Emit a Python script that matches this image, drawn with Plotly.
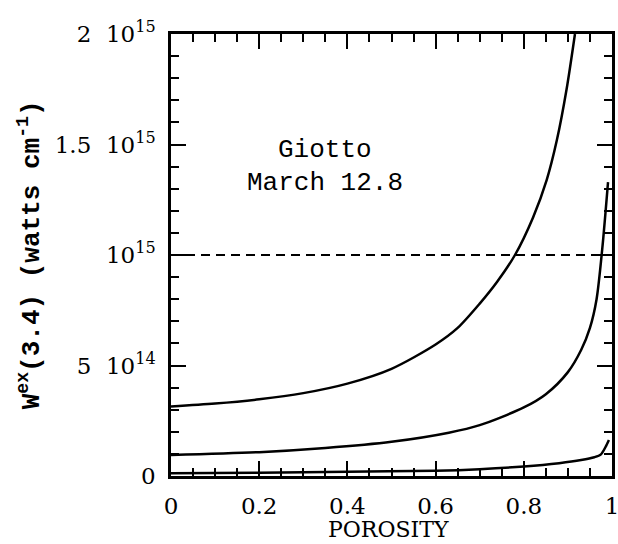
import plotly.graph_objects as go

# Porosity samples and W^ex(3.4) values (in units of 1e15 watts/cm)
p_top = [0.0, 0.1, 0.2, 0.3, 0.4, 0.5, 0.6, 0.65, 0.7, 0.74, 0.78, 0.821, 0.852, 0.875, 0.897, 0.916]
w_top = [0.315, 0.328, 0.347, 0.375, 0.418, 0.485, 0.595, 0.67, 0.78, 0.88, 1.0, 1.17, 1.34, 1.52, 1.75, 2.0]

p_mid = [0.0, 0.2, 0.35, 0.5, 0.63, 0.7, 0.8, 0.85, 0.9, 0.93, 0.95, 0.965, 0.978, 0.991]
w_mid = [0.095, 0.108, 0.127, 0.155, 0.196, 0.23, 0.31, 0.37, 0.47, 0.57, 0.67, 0.80, 1.03, 1.33]

p_low = [0.0, 0.2, 0.4, 0.6, 0.7, 0.8, 0.88, 0.93, 0.96, 0.975, 0.985, 0.993]
w_low = [0.013, 0.015, 0.019, 0.024, 0.031, 0.043, 0.058, 0.072, 0.085, 0.098, 0.13, 0.163]

p_ref = [0.0, 1.0]
w_ref = [1.0, 1.0]

scale = 1e15
NB = "\u00a0"

ytick_vals = [0, 5e14, 1e15, 1.5e15, 2e15]
ytick_text = ["0", f"5{NB} 10<sup>14</sup>", "10<sup>15</sup>",
              f"1.5{NB} 10<sup>15</sup>", f"2{NB} 10<sup>15</sup>"]
xtick_vals = [0, 0.2, 0.4, 0.6, 0.8, 1.0]
xtick_text = ["0", "0.2", "0.4", "0.6", "0.8", "1"]

fig = go.Figure()
for px, wy in [(p_top, w_top), (p_mid, w_mid), (p_low, w_low)]:
    fig.add_trace(go.Scatter(x=px, y=[v * scale for v in wy], mode="lines",
                             line=dict(color="black", width=2.5, shape="spline", smoothing=0.8),
                             showlegend=False))
# dashed reference level drawn on the overlay (top/right) axes, which share the same ranges
fig.add_trace(go.Scatter(x=p_ref, y=[v * scale for v in w_ref], mode="lines",
                         xaxis="x2", yaxis="y2",
                         line=dict(color="black", width=2, dash="9px,6px"), showlegend=False))

ann_font = dict(family="Liberation Mono", size=26, color="black")
fig.add_annotation(x=0.35, y=1.475e15, text="Giotto", showarrow=False, font=ann_font)
fig.add_annotation(x=0.35, y=1.325e15, text="March 12.8", showarrow=False, font=ann_font)

# axis titles as paper annotations
fig.add_annotation(xref="paper", yref="paper", x=-0.362, y=0.5, textangle=-90,
                   text="W<sup>ex</sup>(3.4) (watts cm<sup>-1</sup>)", showarrow=False,
                   font=dict(family="Liberation Mono", size=26, color="black", weight="bold"))
fig.add_annotation(xref="paper", yref="paper", x=0.494, y=-0.1516, yanchor="bottom",
                   text="POROSITY", showarrow=False, borderpad=0,
                   font=dict(family="DejaVu Serif", size=22, color="black"))

tick_font = dict(family="DejaVu Serif", size=23, color="black")
common = dict(showgrid=False, zeroline=False, showline=True, linecolor="black", linewidth=2.5,
              ticks="inside", ticklen=15, tickwidth=2, tickcolor="black", automargin=False)
xminor = dict(dtick=0.05, ticks="inside", ticklen=8, tickwidth=2, tickcolor="black", showgrid=False)
yminor = dict(dtick=1e14, ticks="inside", ticklen=8, tickwidth=2, tickcolor="black", showgrid=False)

fig.update_layout(
    xaxis=dict(range=[0, 1], tickmode="array", tickvals=xtick_vals, ticktext=xtick_text,
               tickfont=tick_font, ticklabelstandoff=8, ticklabeloverflow="allow",
               minor=xminor, **common),
    yaxis=dict(range=[0, 2e15], tickmode="array", tickvals=ytick_vals, ticktext=ytick_text,
               tickfont=tick_font, ticklabelstandoff=8, ticklabeloverflow="allow",
               minor=yminor, **common),
    xaxis2=dict(range=[0, 1], tickmode="array", tickvals=xtick_vals, showticklabels=False,
                overlaying="x", side="top", anchor="y", minor=xminor, **common),
    yaxis2=dict(range=[0, 2e15], tickmode="array", tickvals=ytick_vals, showticklabels=False,
                overlaying="y", side="right", anchor="x", minor=yminor, **common),
    width=618, height=544, margin=dict(l=171, r=6, t=34, b=68),
    plot_bgcolor="white", paper_bgcolor="white")

fig.write_html("out.html")
